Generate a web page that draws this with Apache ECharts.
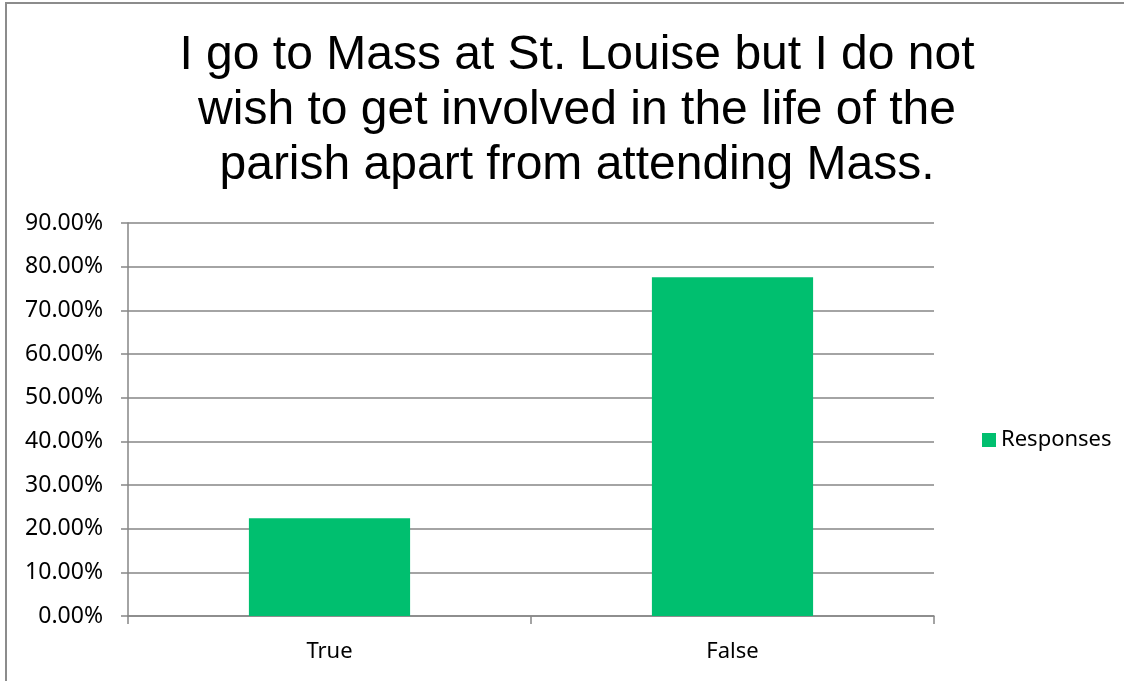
<!DOCTYPE html>
<html>
<head>
<meta charset="utf-8">
<script src="https://cdn.jsdelivr.net/npm/echarts@6/dist/echarts.min.js"></script>
<style>
  html, body { margin: 0; padding: 0; background: #fff; }
  #chart { width: 1124px; height: 681px; }
</style>
</head>
<body>
<div id="chart"></div>
<script>
// 数据
const categories = ['True', 'False'];
const responses = [22.4, 77.6];
const titleLines = [
  'I go to Mass at St. Louise but I do not',
  'wish to get involved in the life of the',
  'parish apart from attending Mass.'
];

const chart = echarts.init(document.getElementById('chart'));

const labelFont = '"Noto Sans", "Open Sans", sans-serif';

const option = {
  backgroundColor: '#fff',
  animation: false,
  title: {
    text: titleLines.join('\n'),
    left: 572,
    top: 23,
    textAlign: 'center',
    textStyle: {
      fontFamily: '"Liberation Sans Narrow", "Liberation Sans", Arial, sans-serif',
      fontSize: 48,
      fontWeight: 'normal',
      color: '#000',
      lineHeight: 55
    }
  },
  legend: {
    data: ['Responses'],
    left: 977,
    top: 424,
    orient: 'vertical',
    itemWidth: 14,
    itemHeight: 14,
    itemGap: 8,
    icon: 'rect',
    textStyle: { fontFamily: labelFont, fontSize: 22, color: '#000' }
  },
  grid: {
    left: 128,
    right: 190,
    top: 223,
    bottom: 65
  },
  xAxis: {
    type: 'category',
    data: categories,
    boundaryGap: true,
    axisLine: { lineStyle: { color: '#868686', width: 1.5 } },
    axisTick: { show: true, length: 8, lineStyle: { color: '#868686', width: 1.5 } },
    axisLabel: { fontFamily: labelFont, fontSize: 22, color: '#000', margin: 25 }
  },
  yAxis: {
    type: 'value',
    min: 0,
    max: 90,
    interval: 10,
    axisLine: { show: true, lineStyle: { color: '#868686', width: 1.5 } },
    axisTick: { show: true, length: 7, lineStyle: { color: '#868686', width: 1.5 } },
    splitLine: { show: true, lineStyle: { color: '#868686', width: 1.5 } },
    axisLabel: {
      fontFamily: labelFont,
      fontSize: 23,
      color: '#000',
      margin: 25,
      formatter: (v) => v.toFixed(2) + '%'
    }
  },
  series: [{
    name: 'Responses',
    type: 'bar',
    data: responses,
    barWidth: '40%',
    itemStyle: { color: '#00BF6F' }
  }],
  graphic: [{
    type: 'rect',
    shape: { x: 6, y: 3, width: 1200, height: 800 },
    style: { fill: 'none', stroke: '#8c8c8c', lineWidth: 2 },
    silent: true
  }]
};

chart.setOption(option);
</script>
</body>
</html>
